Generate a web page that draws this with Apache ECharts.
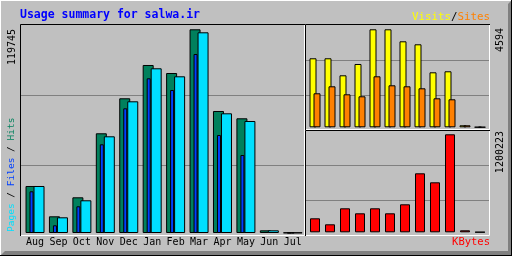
<!DOCTYPE html>
<html>
<head>
<meta charset="utf-8">
<script src="https://cdn.jsdelivr.net/npm/echarts@6/dist/echarts.min.js"></script>
<style>
  html, body { margin: 0; padding: 0; background: #c0c0c0; }
  #chart { width: 512px; height: 256px; }
</style>
</head>
<body>
<div id="chart"></div>
<script>
// monthly figures
const months = ['Aug', 'Sep', 'Oct', 'Nov', 'Dec', 'Jan', 'Feb', 'Mar', 'Apr', 'May', 'Jun', 'Jul']
const hits = [27060, 9610, 20550, 57400, 77550, 96720, 92110, 117270, 70240, 66030, 1550, 200]
const files = [24000, 4430, 15370, 51060, 71790, 89060, 82330, 103050, 56420, 44900, 600, 100]
const pages = [27060, 9040, 18830, 55670, 75820, 94820, 90210, 115540, 68910, 64480, 1550, 200]
const visits = [3099, 3099, 2335, 2843, 4401, 4401, 3862, 3727, 2470, 2515, 90, 10]
const sites = [1527, 1841, 1482, 1392, 2290, 1886, 1841, 1751, 1302, 1257, 90, 10]
const kbytes = [164250, 93860, 281570, 222910, 281570, 222910, 328500, 692200, 586600, 1149750, 23460, 3000]

// axis maxima shown as tick labels
const maxHits = 119745
const maxVisits = 4594
const maxKbytes = 1200223

const FONT = '"DejaVu Sans Mono", monospace'
const GRID_LINE = '#808080'

const chart = echarts.init(document.getElementById('chart'), null, { renderer: 'canvas' })

// frame grid: only draws the two grey split lines
function frameY (idx) {
  return {
    gridIndex: idx, type: 'value', min: 0, max: 3, interval: 1,
    axisLabel: { show: false }, axisLine: { show: false }, axisTick: { show: false },
    splitLine: { show: true, showMinLine: false, showMaxLine: false, lineStyle: { color: GRID_LINE, width: 1 } }
  }
}
function hiddenX (idx, type) {
  return type === 'category'
    ? { gridIndex: idx, type: 'category', data: months, show: false }
    : { gridIndex: idx, type: 'value', min: 0, max: 1, show: false }
}
function hiddenY (idx, max) {
  return { gridIndex: idx, type: 'value', min: 0, max: max, show: false, splitLine: { show: false } }
}

// black top/left, white bottom/right like the old gd bevel
function bevel (x0, y0, x1, y1) {
  return [
    { type: 'polyline', z: 100, silent: true, shape: { points: [[x0 + 0.5, y1 + 1], [x0 + 0.5, y0 + 0.5], [x1 + 1, y0 + 0.5]] }, style: { stroke: '#000', lineWidth: 1, fill: null } },
    { type: 'polyline', z: 100, silent: true, shape: { points: [[x1 + 0.5, y0 + 1], [x1 + 0.5, y1 + 0.5], [x0 + 1, y1 + 0.5]] }, style: { stroke: '#fff', lineWidth: 1, fill: null } }
  ]
}

const shadow = { textShadowColor: '#808080', textShadowOffsetX: 1, textShadowOffsetY: 1, textShadowBlur: 0 }

const option = {
  animation: false,
  backgroundColor: '#c0c0c0',
  grid: [
    { left: 20, top: 25, width: 284, height: 210, outerBoundsMode: 'none' },      // main frame
    { left: 23.3, top: 25, width: 281.2, height: 208, outerBoundsMode: 'none' },  // hits / pages
    { left: 19.8, top: 25, width: 281.2, height: 208, outerBoundsMode: 'none' },  // files
    { left: 305, top: 25, width: 185, height: 105, outerBoundsMode: 'none' },     // visits frame
    { left: 307.5, top: 25, width: 180, height: 102.3, outerBoundsMode: 'none' },
    { left: 305, top: 130, width: 185, height: 105, outerBoundsMode: 'none' },    // kbytes frame
    { left: 307.5, top: 130, width: 180, height: 102.3, outerBoundsMode: 'none' }
  ],
  xAxis: [
    hiddenX(0, 'value'),
    {
      gridIndex: 1, type: 'category', data: months,
      axisLine: { show: false }, axisTick: { show: false },
      axisLabel: { color: '#000', fontFamily: FONT, fontSize: 10, margin: 4, interval: 0 }
    },
    hiddenX(2, 'category'),
    hiddenX(3, 'value'),
    hiddenX(4, 'category'),
    hiddenX(5, 'value'),
    hiddenX(6, 'category')
  ],
  yAxis: [
    frameY(0),
    hiddenY(1, maxHits),
    hiddenY(2, maxHits),
    frameY(3),
    hiddenY(4, maxVisits),
    frameY(5),
    hiddenY(6, maxKbytes)
  ],
  series: [
    {
      name: 'Hits', type: 'bar', xAxisIndex: 1, yAxisIndex: 1, data: hits, z: 2,
      barWidth: 11, barGap: '-27.27%',
      itemStyle: { color: '#00805c', borderColor: '#000', borderWidth: 1 }
    },
    {
      name: 'Files', type: 'bar', xAxisIndex: 2, yAxisIndex: 2, data: files, z: 3,
      barWidth: 4,
      itemStyle: { color: '#0040ff', borderColor: '#000', borderWidth: 1 }
    },
    {
      name: 'Pages', type: 'bar', xAxisIndex: 1, yAxisIndex: 1, data: pages, z: 4,
      barWidth: 11, barGap: '-27.27%',
      itemStyle: { color: '#00e0ff', borderColor: '#000', borderWidth: 1 }
    },
    {
      name: 'Visits', type: 'bar', xAxisIndex: 4, yAxisIndex: 4, data: visits, z: 2,
      barWidth: 7, barGap: '-42.857%',
      itemStyle: { color: '#ffff00', borderColor: '#000', borderWidth: 1 }
    },
    {
      name: 'Sites', type: 'bar', xAxisIndex: 4, yAxisIndex: 4, data: sites, z: 3,
      barWidth: 7, barGap: '-42.857%',
      itemStyle: { color: '#ff8000', borderColor: '#000', borderWidth: 1 }
    },
    {
      name: 'KBytes', type: 'bar', xAxisIndex: 6, yAxisIndex: 6, data: kbytes, z: 2,
      barWidth: 10,
      itemStyle: { color: '#ff0000', borderColor: '#000', borderWidth: 1 }
    }
  ],
  graphic: [
    // outer button look
    { type: 'line', z: 100, silent: true, shape: { x1: 0, y1: 0.5, x2: 511, y2: 0.5 }, style: { stroke: '#fff', lineWidth: 1 } },
    { type: 'line', z: 100, silent: true, shape: { x1: 0.5, y1: 0, x2: 0.5, y2: 255 }, style: { stroke: '#fff', lineWidth: 1 } },
    { type: 'polygon', z: 100, silent: true, shape: { points: [[1, 255], [511, 255], [511, 251], [5, 251]] }, style: { fill: '#808080' } },
    { type: 'polygon', z: 100, silent: true, shape: { points: [[508, 4], [511, 1], [511, 255], [508, 255]] }, style: { fill: '#808080' } },
    { type: 'line', z: 101, silent: true, shape: { x1: 0, y1: 255.5, x2: 512, y2: 255.5 }, style: { stroke: '#000', lineWidth: 1 } },
    { type: 'line', z: 101, silent: true, shape: { x1: 511.5, y1: 0, x2: 511.5, y2: 256 }, style: { stroke: '#000', lineWidth: 1 } },
    ...bevel(20, 24, 304, 235),
    ...bevel(305, 24, 489, 129),
    ...bevel(305, 130, 489, 235),
    {
      type: 'text', z: 101, x: 20, y: 15, silent: true,
      style: { text: 'Usage summary for salwa.ir', fill: '#0000ff', font: 'bold 11.5px ' + FONT, verticalAlign: 'middle' }
    },
    {
      type: 'text', z: 101, x: 490, y: 17.5, silent: true,
      style: {
        text: '{v|Visits}{s|/}{o|Sites}', align: 'right', verticalAlign: 'middle', font: '10.8px ' + FONT,
        rich: {
          v: Object.assign({ fill: '#ffff00', font: '10.8px ' + FONT }, shadow),
          s: { fill: '#000', font: '10.8px ' + FONT },
          o: Object.assign({ fill: '#ff8000', font: '10.8px ' + FONT }, shadow)
        }
      }
    },
    {
      type: 'text', z: 101, x: 490, y: 242, silent: true,
      style: Object.assign({ text: 'KBytes', fill: '#ff0000', font: '10.5px ' + FONT, align: 'right', verticalAlign: 'middle' }, shadow)
    },
    {
      type: 'text', z: 101, x: 12, y: 29, rotation: Math.PI / 2, silent: true,
      style: { text: String(maxHits), fill: '#000', font: '10px ' + FONT, align: 'right', verticalAlign: 'middle' }
    },
    {
      type: 'text', z: 101, x: 12, y: 232, rotation: Math.PI / 2, silent: true,
      style: {
        text: '{p|Pages} / {f|Files} / {h|Hits}', align: 'left', verticalAlign: 'middle', font: '9.5px ' + FONT,
        rich: {
          p: Object.assign({ fill: '#00e0ff', font: '9.5px ' + FONT }, shadow),
          f: Object.assign({ fill: '#0040ff', font: '9.5px ' + FONT }, shadow),
          h: Object.assign({ fill: '#00805c', font: '9.5px ' + FONT }, shadow)
        }
      }
    },
    {
      type: 'text', z: 101, x: 500, y: 28, rotation: Math.PI / 2, silent: true,
      style: { text: String(maxVisits), fill: '#000', font: '10px ' + FONT, align: 'right', verticalAlign: 'middle' }
    },
    {
      type: 'text', z: 101, x: 500, y: 131, rotation: Math.PI / 2, silent: true,
      style: { text: String(maxKbytes), fill: '#000', font: '10px ' + FONT, align: 'right', verticalAlign: 'middle' }
    }
  ]
}

chart.setOption(option)
</script>
</body>
</html>
